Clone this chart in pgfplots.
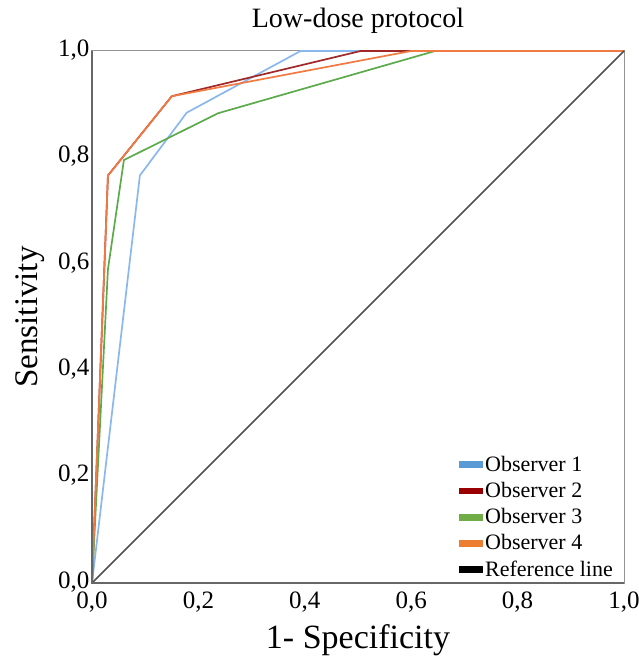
\documentclass[border=0pt]{standalone}
\usepackage{pgfplots}
\pgfplotsset{compat=1.18}
\usepackage{fontspec}
\setmainfont{Liberation Serif}
\definecolor{obsA}{HTML}{8AB8EE}
\definecolor{obsB}{HTML}{A02828}
\definecolor{obsC}{HTML}{5DAA4C}
\definecolor{obsD}{HTML}{F07A42}
\definecolor{legA}{HTML}{5B9BD5}
\definecolor{legB}{HTML}{9A0000}
\definecolor{legC}{HTML}{70AD47}
\definecolor{legD}{HTML}{ED7D31}
\definecolor{refl}{HTML}{505050}
\definecolor{frame}{HTML}{808080}
\begin{document}
\begin{tikzpicture}
\useasboundingbox (-92pt,-78pt) rectangle (547pt,583pt);
\begin{axis}[
  at={(0,0)}, anchor=south west,
  width=532pt, height=532pt, scale only axis,
  xmin=0, xmax=1, ymin=0, ymax=1,
  xtick={0,0.2,...,1.0}, ytick={0,0.2,...,1.0},
  major tick length=0pt,
  /pgf/number format/.cd, use comma, fixed, fixed zerofill, precision=1, assume math mode=true,
  /pgfplots/.cd,
  ticklabel style={font=\fontsize{25}{27}\selectfont},
  xticklabel style={yshift=-5pt},
  yticklabel style={xshift=1pt, yshift=1pt},
  axis line style={draw=frame!85, line width=1pt},
  title={Low-dose protocol},
  title style={font=\fontsize{28}{30}\selectfont, at={(axis description cs:0.5,1.045)}, anchor=center},
  xlabel={1- Specificity},
  ylabel={Sensitivity},
  xlabel style={font=\fontsize{34}{36}\selectfont, at={(axis description cs:0.5,-0.107)}, anchor=center},
  ylabel style={font=\fontsize{33}{36}\selectfont, at={(axis description cs:-0.1165,0.5)}, anchor=center},
  legend cell align=left,
  legend style={draw=none, fill=none, at={(1,0)}, anchor=south east, xshift=-7pt, yshift=1pt,
    font=\fontsize{22}{23}\selectfont, row sep=5.5pt, inner sep=2pt},
  clip=false,
]
\addplot[color=obsA, line width=1.7pt, legend image code/.code={\fill[legA] (0pt,-3pt) rectangle (22pt,2pt);}]
  coordinates {(0,0) (0.09,0.766) (0.178,0.884) (0.392,1) (1,1)};
\addlegendentry{Observer 1}
\addplot[color=obsB, line width=1.7pt, legend image code/.code={\fill[legB] (0pt,-3pt) rectangle (22pt,2pt);}]
  coordinates {(0,0) (0.03,0.766) (0.15,0.915) (0.505,1) (1,1)};
\addlegendentry{Observer 2}
\addplot[color=obsC, line width=1.7pt, legend image code/.code={\fill[legC] (0pt,-3pt) rectangle (22pt,2pt);}]
  coordinates {(0,0) (0.03,0.59) (0.06,0.795) (0.237,0.883) (0.645,1) (1,1)};
\addlegendentry{Observer 3}
\addplot[color=obsD, line width=1.7pt, legend image code/.code={\fill[legD] (0pt,-3pt) rectangle (22pt,2pt);}]
  coordinates {(0,0) (0.03,0.766) (0.15,0.915) (0.6,1) (1,1)};
\addlegendentry{Observer 4}
\addplot[color=refl, line width=1.7pt, legend image code/.code={\fill[black] (0pt,-3pt) rectangle (22pt,2pt);}]
  coordinates {(0,0) (1,1)};
\addlegendentry{Reference line}
\draw[frame!80!black, line width=2.2pt] (rel axis cs:0,1) -- (rel axis cs:0,0) -- (rel axis cs:1,0);
\end{axis}
\end{tikzpicture}
\end{document}
